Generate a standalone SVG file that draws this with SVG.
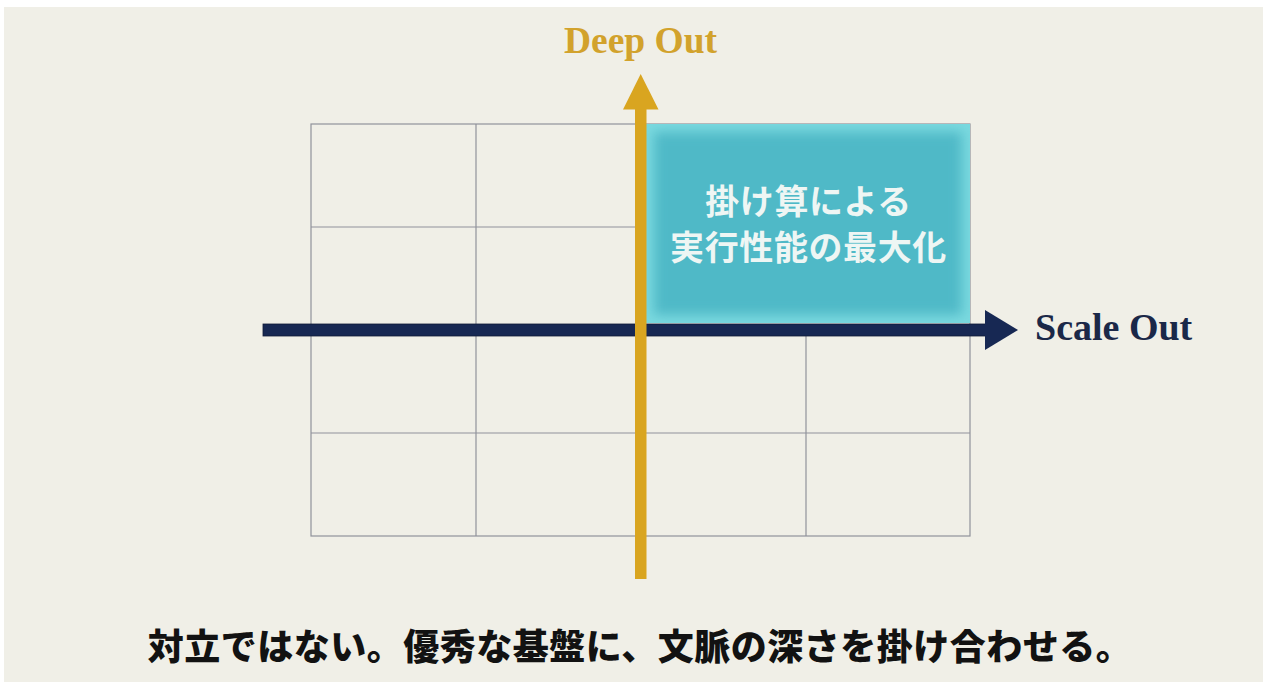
<svg xmlns="http://www.w3.org/2000/svg" width="1263" height="682" viewBox="0 0 1263 682">
  <defs>
    <style>
      .grid { fill: none; stroke: #90929b; stroke-width: 1.2; }
      .axisLabel { font-family: "Liberation Serif", "DejaVu Serif", serif; font-weight: bold; }
      .boxText { font-family: "Noto Sans CJK JP", "Noto Sans", sans-serif; font-weight: bold; font-size: 34px; letter-spacing: 0.6px; fill: #eef6f4; text-anchor: middle; }
      .caption { font-family: "Noto Sans CJK JP", "Noto Sans", sans-serif; font-weight: 900; font-size: 36px; letter-spacing: 0.5px; fill: #121212; text-anchor: middle; }
    </style>
    <filter id="soft" x="-10%" y="-10%" width="120%" height="120%">
      <feGaussianBlur stdDeviation="6"/>
    </filter>
    <clipPath id="boxClip">
      <rect x="646" y="124" width="324" height="199"/>
    </clipPath>
  </defs>

  <rect x="0" y="0" width="1263" height="682" fill="#ffffff"/>
  <rect x="4" y="7" width="1259" height="675" fill="#f0efe7"/>

  <g id="grid">
    <rect class="grid" x="311" y="124" width="659" height="412"/>
    <line class="grid" x1="476" y1="124" x2="476" y2="536"/>
    <line class="grid" x1="641" y1="124" x2="641" y2="536"/>
    <line class="grid" x1="806" y1="330" x2="806" y2="536"/>
    <line class="grid" x1="311" y1="227" x2="970" y2="227"/>
    <line class="grid" x1="311" y1="433" x2="970" y2="433"/>
  </g>

  <g id="highlight-box">
    <rect x="646" y="124" width="324" height="199" fill="#7ad9df"/>
    <g clip-path="url(#boxClip)">
      <rect x="654" y="132" width="308" height="183" fill="#50b9c7" filter="url(#soft)"/>
    </g>
    <text class="boxText" x="808.5" y="214">掛け算による</text>
    <text class="boxText" x="808.5" y="260">実行性能の最大化</text>
  </g>

  <g id="connectors">
    <g id="scale-out-axis">
      <rect x="263" y="324" width="724" height="12" fill="#172853" stroke="#0f1b38" stroke-width="0.8"/>
      <polygon points="985,310 1018,330 985,350" fill="#172853"/>
    </g>
    <g id="deep-out-axis">
      <rect x="635" y="107" width="11.5" height="472" fill="#d9a520"/>
      <polygon points="623,109.5 640.7,74 658.5,109.5" fill="#d9a520"/>
    </g>
  </g>

  <g id="labels">
    <text id="deep-out" class="axisLabel" x="640.5" y="53" font-size="37.5" text-anchor="middle" fill="#d2a22c">Deep Out</text>
    <text id="scale-out" class="axisLabel" x="1035" y="340" font-size="38" fill="#1b2848">Scale Out</text>
  </g>

  <g id="caption">
    <text class="caption" x="640" y="660">対立ではない。優秀な基盤に、文脈の深さを掛け合わせる。</text>
  </g>
</svg>
